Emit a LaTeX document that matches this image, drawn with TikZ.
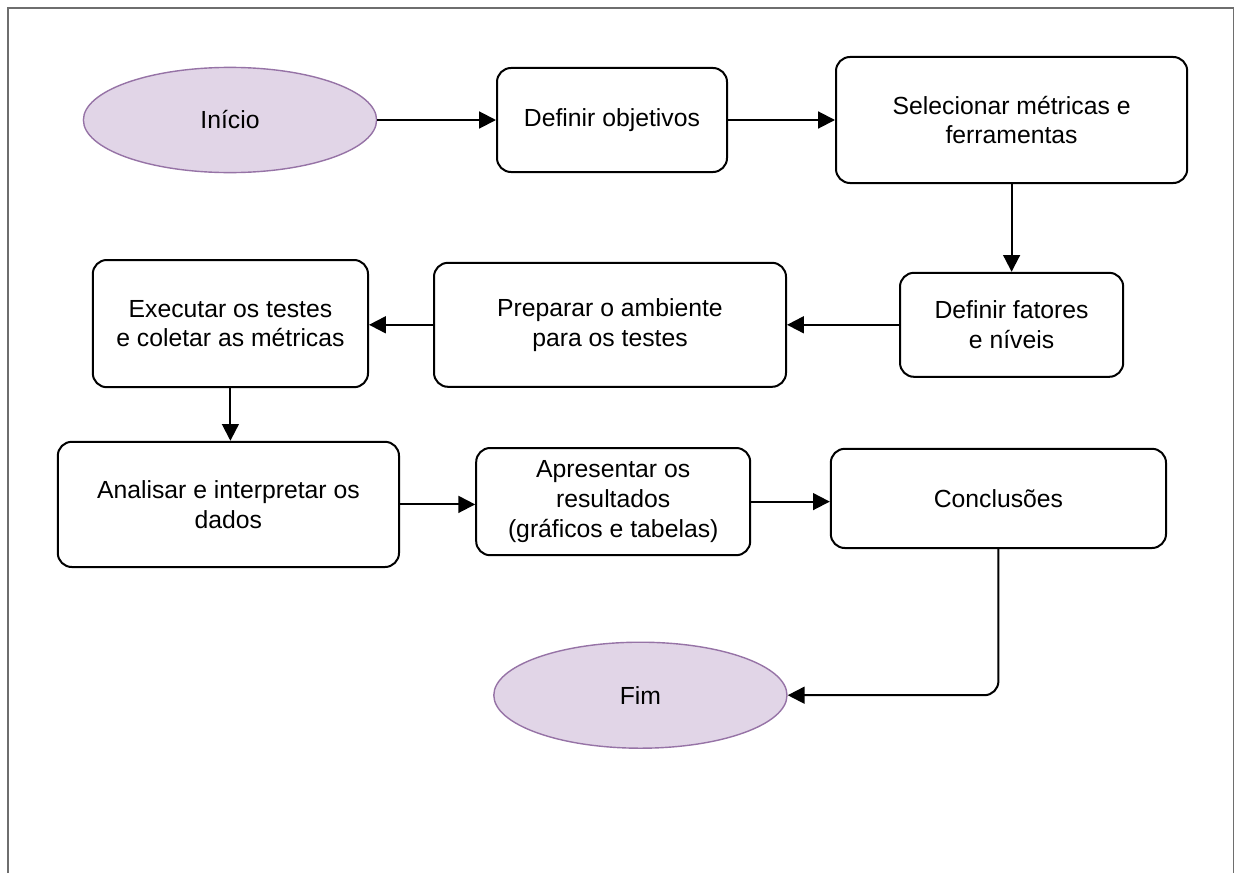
\documentclass[tikz,border=0pt]{standalone}
\usepackage{fontspec}
\setmainfont{Liberation Sans}
\usetikzlibrary{arrows.meta,shapes.geometric}
\definecolor{Ink}{HTML}{000000}
\definecolor{Lilac}{HTML}{9673A6}
\definecolor{LilacSoft}{HTML}{E1D5E7}
\definecolor{Frame}{HTML}{6E6E6E}
\tikzset{
  stepbox/.style={draw=Ink,line width=0.05cm,rounded corners=0.35cm,align=center,fill=white,text=Ink,inner sep=0pt},
  terminal/.style={ellipse,draw=Lilac,line width=0.035cm,fill=LilacSoft,inner sep=0pt,text=Ink},
  arrow/.style={-{Triangle[length=0.42cm,width=0.42cm]},line width=0.05cm,draw=Ink}
}

\begin{document}
\begin{tikzpicture}[x=1cm,y=1cm,font=\fontsize{17.6pt}{21.3pt}\selectfont]
  \useasboundingbox (0,0) rectangle (30.925,-21.825);
  % open frame
  \draw[Frame,line width=0.03cm] (0.2,-21.825)--(0.2,-0.2)--(30.83,-0.2)--(30.83,-21.825);

  % row 1
  \node[terminal,minimum width=7.33cm,minimum height=2.63cm] (start) at (5.75,-3.0) {Início};
  \node[stepbox,minimum width=5.75cm,minimum height=2.6cm] (obj) at (15.3,-3.0) {Definir objetivos};
  \node[stepbox,minimum width=8.78cm,minimum height=3.15cm] (sel) at (25.29,-3.0) {Selecionar métricas e\\ferramentas};
  % row 2
  \node[stepbox,minimum width=5.58cm,minimum height=2.6cm] (fat) at (25.29,-8.12) {Definir fatores\\e níveis};
  \node[stepbox,minimum width=8.8cm,minimum height=3.1cm] (prep) at (15.25,-8.12) {Preparar o ambiente\\para os testes};
  \node[stepbox,minimum width=6.88cm,minimum height=3.18cm] (exec) at (5.76,-8.09) {Executar os testes\\e coletar as métricas};
  % row 3
  \node[stepbox,minimum width=8.53cm,minimum height=3.13cm] (anal) at (5.71,-12.61) {Analisar e interpretar os\\dados};
  \node[stepbox,minimum width=6.85cm,minimum height=2.68cm] (apr) at (15.33,-12.54) {Apresentar os\\resultados\\(gráficos e tabelas)};
  \node[stepbox,minimum width=8.38cm,minimum height=2.48cm] (conc) at (24.96,-12.46) {Conclusões};
  % end
  \node[terminal,minimum width=7.33cm,minimum height=2.65cm] (fim) at (16.01,-17.38) {Fim};

  \draw[arrow] (start)--(obj);
  \draw[arrow] (obj)--(sel);
  \draw[arrow] (sel)--(fat);
  \draw[arrow] (fat)--(prep);
  \draw[arrow] (prep.west)--(prep.west -| exec.east);
  \draw[arrow] (exec.south)--(exec.south |- anal.north);
  \draw[arrow] (anal.east)--(anal.east -| apr.west);
  \draw[arrow] (apr.east)--(apr.east -| conc.west);
  \draw[arrow,rounded corners=0.35cm] (conc.south) |- (fim.east);
\end{tikzpicture}
\end{document}
